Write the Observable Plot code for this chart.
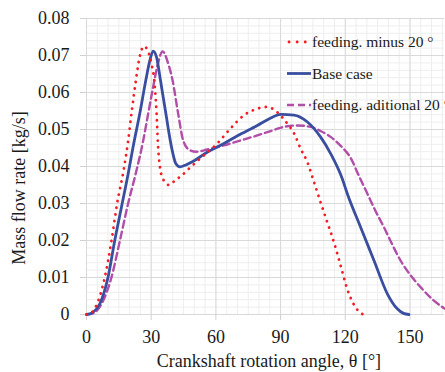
<!DOCTYPE html>
<html>
<head>
<meta charset="utf-8">
<script src="https://cdn.jsdelivr.net/npm/d3@7"></script>
<script src="https://cdn.jsdelivr.net/npm/@observablehq/plot@0.6"></script>
<style>
  html, body { margin: 0; padding: 0; background: white; }
  #chart { width: 445px; height: 372px; overflow: hidden; }
</style>
</head>
<body>
<div id="chart"></div>
<script>
// ---- data ----
const seriesNames = ["feeding. minus 20 °", "Base case", "feeding. aditional 20 °"];
const xTicks = [0, 30, 60, 90, 120, 150];
const yTicks = [0, 0.01, 0.02, 0.03, 0.04, 0.05, 0.06, 0.07, 0.08];
const xLabel = "Crankshaft rotation angle, θ [°]";
const yLabel = "Mass flow rate [kg/s]";

const minusAngle = [0, 2.5, 4.9, 8.5, 11.6, 14.2, 17.2, 19.2, 21, 22.9, 24.8, 26.6, 28.3, 30.1, 31.4, 32.5, 33.2, 34.3, 35.6, 36.8, 38.3, 41, 44, 48.2, 54.4, 60.6, 66.8, 72.9, 79.2, 83.8, 88.4, 93.1, 96.2, 99.3, 102.4, 105.5, 108.5, 111.6, 114.7, 117.8, 120.9, 123.5, 126, 128.3];
const minusValue = [0, 0.0006, 0.0029, 0.0101, 0.02, 0.03, 0.039, 0.0465, 0.055, 0.0633, 0.07, 0.0725, 0.0715, 0.0678, 0.0633, 0.0543, 0.0453, 0.039, 0.0365, 0.0354, 0.035, 0.0362, 0.0375, 0.0398, 0.043, 0.0462, 0.0503, 0.0538, 0.0556, 0.0561, 0.0547, 0.0516, 0.049, 0.0448, 0.0412, 0.0358, 0.0304, 0.025, 0.0196, 0.0133, 0.0069, 0.0032, 0.001, 0];

const baseAngle = [0, 3, 6.2, 10, 13.1, 16.2, 19.3, 21.6, 24.7, 27.5, 29.3, 30.9, 32.5, 34.3, 36.8, 39.4, 41.4, 43.3, 46, 49.5, 55, 63.7, 70, 79.2, 85, 90, 96.2, 102.3, 108.5, 113.2, 118.6, 120.9, 127.1, 133.3, 139.5, 144, 147, 149.5];
const baseValue = [0, 0.0006, 0.0029, 0.0101, 0.02, 0.029, 0.038, 0.0453, 0.0543, 0.0633, 0.0685, 0.0712, 0.0695, 0.0633, 0.0543, 0.0453, 0.0408, 0.0399, 0.0404, 0.0414, 0.0435, 0.0462, 0.0483, 0.0511, 0.053, 0.0541, 0.0539, 0.0521, 0.048, 0.0435, 0.0367, 0.0327, 0.0236, 0.0146, 0.0056, 0.0016, 0.0003, 0];

const plusAngle = [0, 3, 7, 11.6, 15.5, 19.3, 23, 26.3, 28.6, 30.9, 32.8, 35.3, 37.9, 39.9, 42.5, 44.8, 47.9, 51, 56, 63.7, 70, 79.2, 85, 91.5, 97.7, 103.9, 108.5, 113.2, 118, 122.4, 126.3, 130.2, 134, 137.9, 141.7, 145.6, 150, 154.9, 160, 165, 166];
const plusValue = [0, 0.0003, 0.0029, 0.0101, 0.02, 0.03, 0.0385, 0.047, 0.0543, 0.0615, 0.067, 0.0711, 0.0678, 0.0633, 0.0543, 0.0471, 0.0444, 0.044, 0.0446, 0.0457, 0.0468, 0.0484, 0.0495, 0.0507, 0.0511, 0.0507, 0.0496, 0.048, 0.0455, 0.0424, 0.0375, 0.0327, 0.028, 0.0236, 0.019, 0.0146, 0.0108, 0.0074, 0.0043, 0.002, 0.0016];

// ---- build table ----
const toRows = (name, xs, ys) => xs.map((a, i) => ({series: name, angle: a, value: ys[i]}));
const minusRows = toRows(seriesNames[0], minusAngle, minusValue);
const baseRows = toRows(seriesNames[1], baseAngle, baseValue);
const plusRows = toRows(seriesNames[2], plusAngle, plusValue);

const colors = {red: "#f21d24", blue: "#3a4ea0", purple: "#b04ea8"};
const minorX = d3.range(0, 167, 5);
const minorY = d3.range(0, 41).map(i => i * 0.002);
const font = "'Liberation Serif', 'Times New Roman', Times, serif";

const chart = Plot.plot({
  width: 445,
  height: 372,
  marginLeft: 86,
  marginRight: 1,
  marginTop: 18,
  marginBottom: 58,
  style: {fontFamily: font, fontSize: "18px", color: "#1a1a1a", background: "white"},
  x: {domain: [0, 166]},
  y: {domain: [0, 0.08]},
  marks: [
    Plot.gridX(minorX, {stroke: "#eeeeee", strokeOpacity: 1}),
    Plot.gridY(minorY, {stroke: "#eeeeee", strokeOpacity: 1}),
    Plot.gridX(xTicks, {stroke: "#d9d9d9", strokeOpacity: 1}),
    Plot.gridY(yTicks, {stroke: "#d9d9d9", strokeOpacity: 1}),
    Plot.axisX(xTicks, {tickSize: 6, tickPadding: 10, stroke: "#d0d0d0", label: null}),
    Plot.axisY(yTicks, {tickSize: 6, tickPadding: 11, stroke: "#d0d0d0", label: null,
      tickFormat: d => d === 0 ? "0" : d.toFixed(2)}),
    Plot.line(plusRows, {x: "angle", y: "value", stroke: colors.purple, strokeWidth: 2.4, strokeDasharray: "7 4", curve: "monotone-x"}),
    Plot.line(baseRows, {x: "angle", y: "value", stroke: colors.blue, strokeWidth: 2.8, curve: "monotone-x"}),
    Plot.line(minusRows, {x: "angle", y: "value", stroke: colors.red, strokeWidth: 2.8, strokeDasharray: "0.1 6.6", strokeLinecap: "round", curve: "monotone-x"})
  ]
});

document.getElementById("chart").appendChild(chart);

// ---- axis titles and legend ----
const svg = d3.select(chart);
svg.append("text")
  .attr("x", 269).attr("y", 367)
  .attr("text-anchor", "middle")
  .attr("font-family", font).attr("font-size", 18).attr("fill", "#1a1a1a")
  .text(xLabel);
svg.append("text")
  .attr("transform", "translate(25,188) rotate(-90)")
  .attr("text-anchor", "middle")
  .attr("font-family", font).attr("font-size", 18).attr("fill", "#1a1a1a")
  .text(yLabel);

const legend = [
  {name: seriesNames[0], color: colors.red, dash: "0.1 8", width: 2.8, cap: "round", y: 42},
  {name: seriesNames[1], color: colors.blue, dash: null, width: 2.8, cap: "butt", y: 73.5},
  {name: seriesNames[2], color: colors.purple, dash: "7 4", width: 2.4, cap: "butt", y: 105}
];
const lg = svg.append("g");
legend.forEach(d => {
  const l = lg.append("line")
    .attr("x1", d.cap === "round" ? 289 : 287).attr("x2", 311)
    .attr("y1", d.y).attr("y2", d.y)
    .attr("stroke", d.color).attr("stroke-width", d.width)
    .attr("stroke-linecap", d.cap);
  if (d.dash) l.attr("stroke-dasharray", d.dash);
  lg.append("text")
    .attr("x", 312).attr("y", d.y).attr("dy", "0.35em")
    .attr("text-anchor", "start")
    .attr("font-family", font).attr("font-size", 15.5).attr("fill", "#1a1a1a")
    .text(d.name);
});
</script>
</body>
</html>
